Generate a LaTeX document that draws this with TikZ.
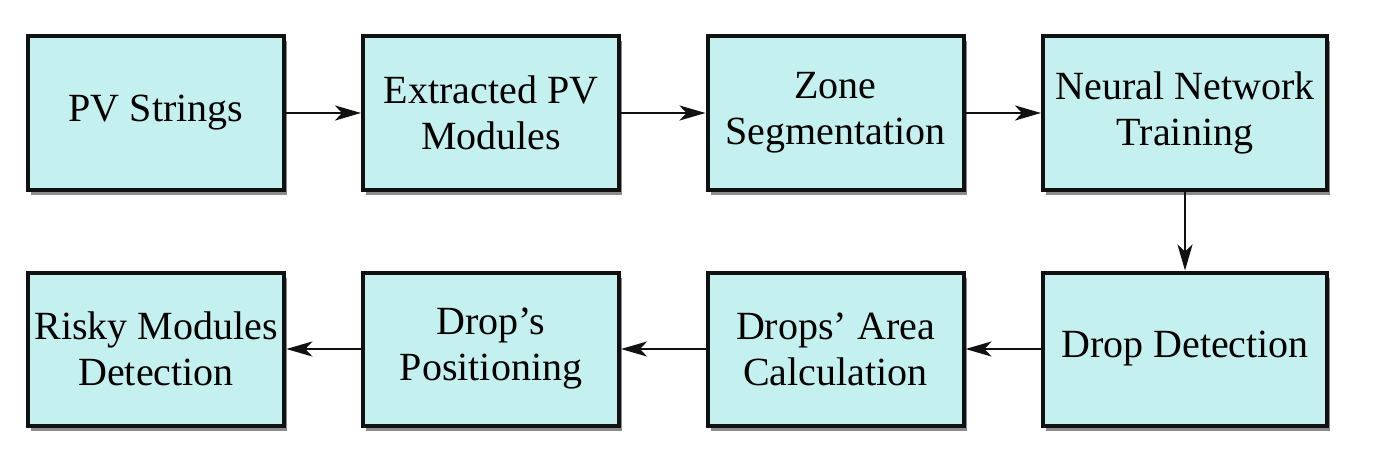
\documentclass[tikz,border=0pt]{standalone}
\usepackage{fontspec}
\setmainfont{Liberation Serif}
\usetikzlibrary{positioning, arrows.meta, shadows}
\definecolor{Boxfill}{HTML}{C4F1EF}
\definecolor{Edge}{HTML}{111111}
\tikzset{
    stagebox/.style={rectangle, draw=Edge, fill=Boxfill, line width=2pt, align=center,
        minimum width=128pt, minimum height=76.5pt, font=\fontsize{20}{23}\selectfont,
        drop shadow={shadow xshift=1.5pt, shadow yshift=-2.5pt, fill=black, opacity=0.45}},
    widebox/.style={stagebox, minimum width=142pt},
    arrow/.style={-{Stealth[length=13pt, width=7.5pt, inset=3.5pt]}, line width=1.2pt, color=Edge},
}
\begin{document}
\begin{tikzpicture}[x=0.5pt, y=-0.5pt]
    \useasboundingbox (0,0) rectangle (1381,460);

    % top row
    \node[stagebox] (strings) at (156,113) {PV Strings};
    \node[stagebox] (modules) at (491,113) {Extracted PV\\Modules};
    \node[stagebox] (zones) at (835.5,113) {Zone\\Segmentation};
    \node[widebox] (training) at (1185,113) {Neural Network\\Training};

    % bottom row
    \node[widebox] (detect) at (1185,349) {Drop Detection};
    \node[stagebox] (area) at (835.5,349) {Drops' Area\\Calculation};
    \node[stagebox] (position) at (491,349) {Drop's\\Positioning};
    \node[stagebox] (risky) at (156,349) {Risky Modules\\Detection};

    % Flow
    \draw[arrow] (strings) -- (modules);
    \draw[arrow] (modules) -- (zones);
    \draw[arrow] (zones) -- (training);
    \draw[arrow] (training) -- (detect);
    \draw[arrow] (detect) -- (area);
    \draw[arrow] (area) -- (position);
    \draw[arrow] (position) -- (risky);
\end{tikzpicture}
\end{document}
